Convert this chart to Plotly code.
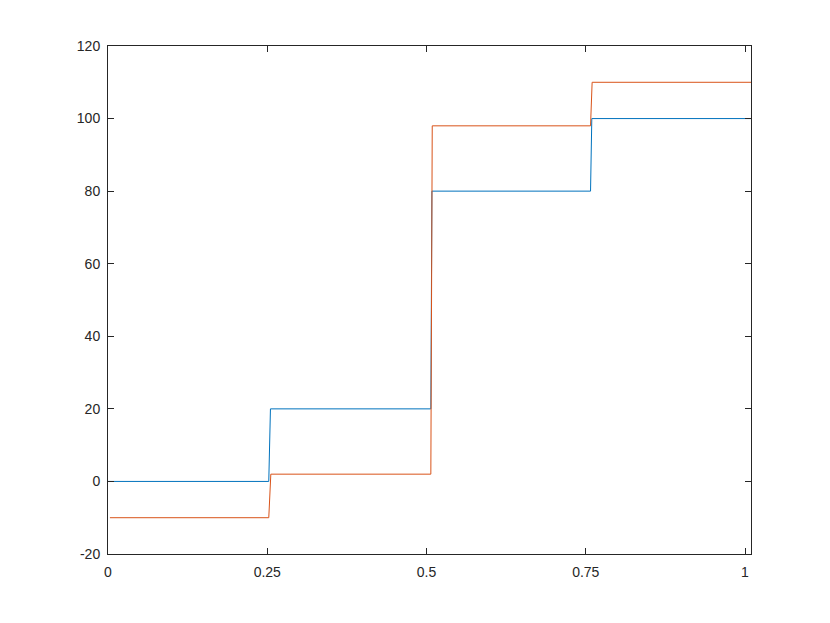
import plotly.graph_objects as go

# step signals
blue_x = [0, 0.2524, 0.2550, 0.5068, 0.5085, 0.7575, 0.7595, 1.01]
blue_y = [0, 0, 20, 20, 80, 80, 100, 100]
red_x = [0.003, 0.2524, 0.2556, 0.5068, 0.5090, 0.7575, 0.7600, 1.01]
red_y = [-10, -10, 2, 2, 98, 98, 110, 110]

x_ticks = [0, 0.25, 0.5, 0.75, 1]
x_labels = ["0", "0.25", "0.5", "0.75", "1"]
y_ticks = [-20, 0, 20, 40, 60, 80, 100, 120]
y_labels = ["-20", "0", "20", "40", "60", "80", "100", "120"]

fig = go.Figure()
fig.add_trace(go.Scatter(x=blue_x, y=blue_y, mode="lines",
                         line=dict(color="#0072BD", width=1)))
fig.add_trace(go.Scatter(x=red_x, y=red_y, mode="lines",
                         line=dict(color="#D95319", width=1)))

axis_style = dict(
    showgrid=False, zeroline=False, showline=True, linecolor="#262626",
    linewidth=1, mirror="ticks", ticks="inside", ticklen=6,
    tickcolor="#262626", tickfont=dict(family="Liberation Sans", size=14,
                                       color="#262626"),
)

# page body adds 8px, so margins are 8px smaller than the measured plot box
fig.update_layout(
    width=830, height=623,
    margin=dict(l=100, r=87, t=38, b=77),
    paper_bgcolor="white", plot_bgcolor="white",
    showlegend=False,
    xaxis=dict(range=[0, 1.0094], tickvals=x_ticks, ticktext=x_labels,
               ticklabelstandoff=5, **axis_style),
    yaxis=dict(range=[-20, 120], tickvals=y_ticks, ticktext=y_labels,
               ticklabelstandoff=4, **axis_style),
)

fig.write_html("out.html")
